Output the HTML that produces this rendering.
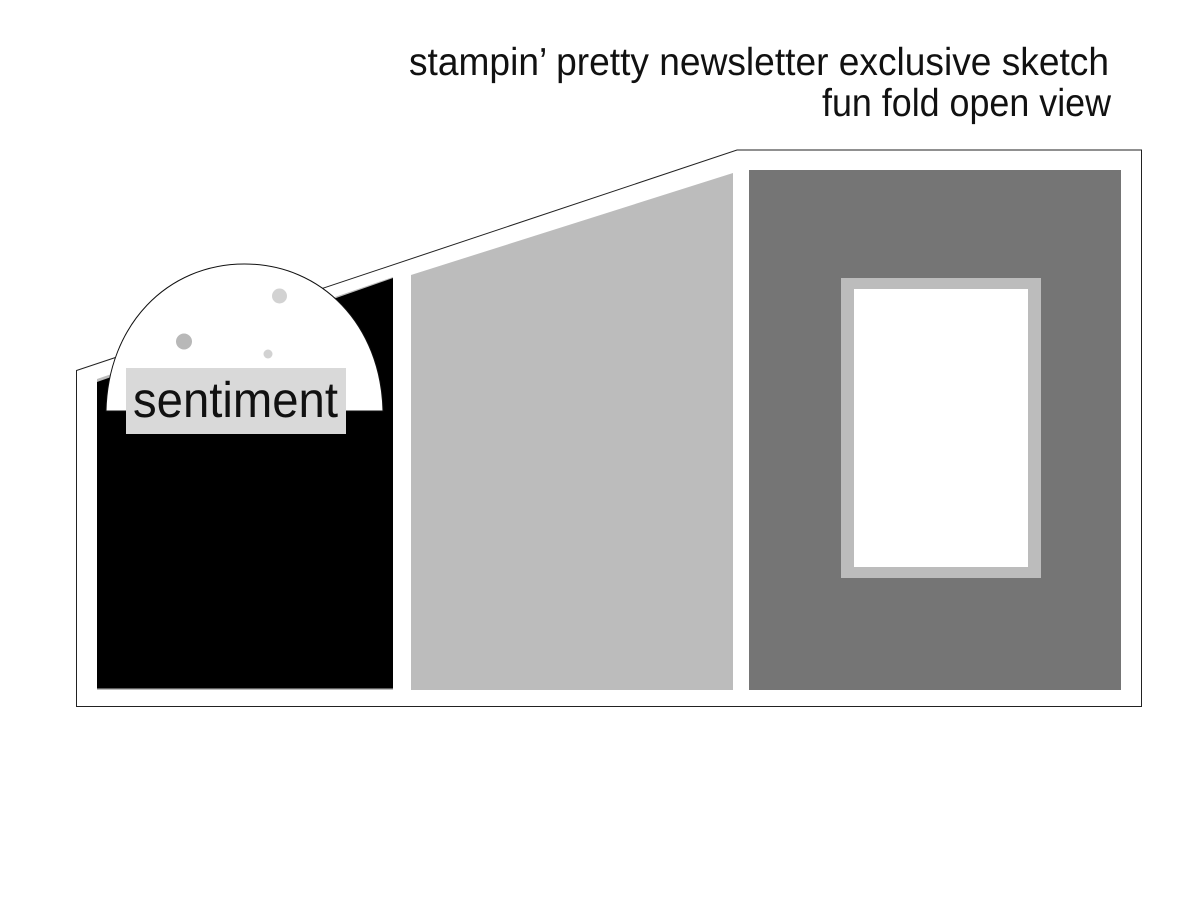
<!DOCTYPE html>
<html><head><meta charset="utf-8"><title>fun fold open view</title>
<style>html,body{margin:0;padding:0;background:#fff}svg{display:block}text{font-family:"Liberation Sans",sans-serif;fill:#111;text-rendering:geometricPrecision}</style>
</head><body>
<svg width="1200" height="900" viewBox="0 0 1200 900" xmlns="http://www.w3.org/2000/svg">
<rect width="1200" height="900" fill="#fff"/>
<path d="M76.5 370.500 L737 150 H1141.500 V706.500 H76.500 Z" fill="#fff" stroke="#222" stroke-width="1"/>
<path d="M97 379 L393 277 V690 H97 Z" fill="#bcbcbc"/>
<path d="M97 382 L393 278 V688.500 H97 Z" fill="#000"/>
<path d="M411 275 L733 173 V690 H411 Z" fill="#bcbcbc"/>
<rect x="749" y="170" width="372" height="520" fill="#757575"/>
<rect x="841" y="278" width="200" height="300" fill="#bcbcbc"/>
<rect x="854" y="289" width="174" height="278" fill="#fff"/>
<path d="M106 411 C108 325 167 264 244.500 264 C322 264 381 325 383 411 Z" fill="#fff" stroke="#111" stroke-width="1"/>
<circle cx="184" cy="341.500" r="8" fill="#b8b8b8"/>
<circle cx="279.500" cy="296" r="7.500" fill="#d2d2d2"/>
<circle cx="268" cy="354" r="4.500" fill="#d2d2d2"/>
<rect x="126" y="368" width="220" height="66" fill="#d9d9d9"/>
<text x="133" y="417" font-size="50" textLength="205" lengthAdjust="spacingAndGlyphs">sentiment</text>
<text x="409" y="75" font-size="39" textLength="700" lengthAdjust="spacingAndGlyphs">stampin’ pretty newsletter exclusive sketch</text>
<text x="822" y="116" font-size="39" textLength="289" lengthAdjust="spacingAndGlyphs">fun fold open view</text>
</svg>
</body></html>
